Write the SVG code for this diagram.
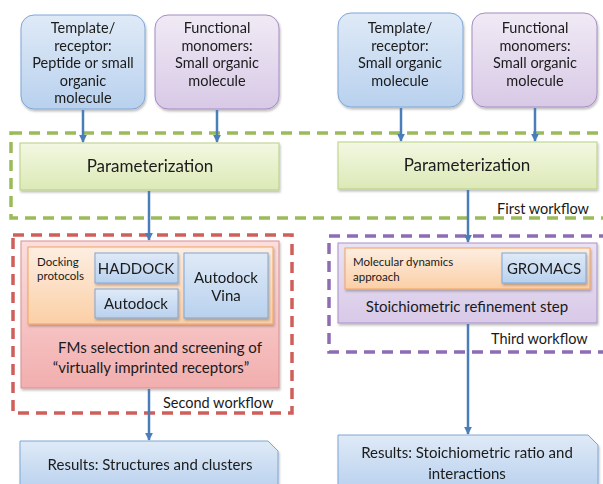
<svg xmlns="http://www.w3.org/2000/svg" width="603" height="484" viewBox="0 0 603 484">
<defs>
<linearGradient id="gBlue" x1="0" y1="0" x2="0" y2="1"><stop offset="0" stop-color="#dfeaf7"/><stop offset="1" stop-color="#b9d1ee"/></linearGradient>
<linearGradient id="gPurple" x1="0" y1="0" x2="0" y2="1"><stop offset="0" stop-color="#f0eaf5"/><stop offset="1" stop-color="#d8c9e6"/></linearGradient>
<linearGradient id="gGreen" x1="0" y1="0" x2="0" y2="1"><stop offset="0" stop-color="#f3f8e2"/><stop offset="1" stop-color="#dce9b6"/></linearGradient>
<linearGradient id="gPink" x1="0" y1="0" x2="0" y2="1"><stop offset="0" stop-color="#fbdede"/><stop offset="1" stop-color="#f2aeae"/></linearGradient>
<linearGradient id="gOrange" x1="0" y1="0" x2="0" y2="1"><stop offset="0" stop-color="#fdeee2"/><stop offset="1" stop-color="#fbcfa6"/></linearGradient>
<linearGradient id="gLav" x1="0" y1="0" x2="0" y2="1"><stop offset="0" stop-color="#ebe3f3"/><stop offset="1" stop-color="#d8c9e8"/></linearGradient>
<filter id="sh" x="-10%" y="-10%" width="120%" height="130%"><feDropShadow dx="1" dy="2" stdDeviation="1.2" flood-color="#000" flood-opacity="0.25"/></filter>
<marker id="arr" viewBox="0 0 10 10" refX="9" refY="5" markerWidth="8" markerHeight="8" markerUnits="userSpaceOnUse" orient="auto"><path d="M0,0 L10,5 L0,10 z" fill="#4a7ebb"/></marker>
</defs>
<style>
text{font-family:Lato,"Open Sans","Liberation Sans",sans-serif;fill:#1a1a1a}
.t15{font-size:15px;text-anchor:middle}
.tb{font-size:14.5px;text-anchor:middle}
.t16{font-size:17px;text-anchor:middle}
.t11{font-size:11.5px}
.t14{font-size:14.5px}
.blue{fill:url(#gBlue);stroke:#7ea6d6;stroke-width:1}
.purple{fill:url(#gPurple);stroke:#a58cc0;stroke-width:1}
.green{fill:url(#gGreen);stroke:#b7cf83;stroke-width:1}
.pink{fill:url(#gPink);stroke:#d9908f;stroke-width:1}
.orange{fill:url(#gOrange);stroke:#f2a35e;stroke-width:1}
.lav{fill:url(#gLav);stroke:#a991c6;stroke-width:1}
.dash{fill:none;stroke-width:3.5;stroke-dasharray:11 7}
.conn{fill:none;stroke:#4a7ebb;stroke-width:2.5}
</style>
<rect width="603" height="484" fill="#ffffff"/>

<!-- workflow frames -->
<g id="first-workflow">
<rect class="dash" x="11" y="133" width="600" height="85" stroke="#9bbb59"/>
<text class="t14" x="497" y="214">First workflow</text>
</g>
<g id="second-workflow">
<rect class="dash" x="13" y="235" width="279" height="178" stroke="#cf5f5b"/>
<text class="t14" x="163" y="408">Second workflow</text>
</g>
<g id="third-workflow">
<rect class="dash" x="329" y="236" width="280" height="116" stroke="#8e6cb4"/>
<text class="t14" x="491" y="344">Third workflow</text>
</g>

<!-- top nodes -->
<g id="template-left" filter="url(#sh)">
<rect class="blue" x="21" y="15" width="124" height="94" rx="13"/>
<text class="tb" x="83" y="33">Template/</text>
<text class="tb" x="83" y="50.5">receptor:</text>
<text class="tb" x="83" y="68">Peptide or small</text>
<text class="tb" x="83" y="85.5">organic</text>
<text class="tb" x="83" y="103">molecule</text>
</g>
<g id="monomers-left" filter="url(#sh)">
<rect class="purple" x="155" y="15" width="124" height="94" rx="13"/>
<text class="tb" x="217" y="33">Functional</text>
<text class="tb" x="217" y="50.5">monomers:</text>
<text class="tb" x="217" y="68">Small organic</text>
<text class="tb" x="217" y="85.5">molecule</text>
</g>
<g id="template-right" filter="url(#sh)">
<rect class="blue" x="338" y="13" width="125" height="94" rx="13"/>
<text class="tb" x="400" y="33">Template/</text>
<text class="tb" x="400" y="50.5">receptor:</text>
<text class="tb" x="400" y="68">Small organic</text>
<text class="tb" x="400" y="85.5">molecule</text>
</g>
<g id="monomers-right" filter="url(#sh)">
<rect class="purple" x="472" y="13" width="125" height="94" rx="13"/>
<text class="tb" x="535" y="33">Functional</text>
<text class="tb" x="535" y="50.5">monomers:</text>
<text class="tb" x="535" y="68">Small organic</text>
<text class="tb" x="535" y="85.5">molecule</text>
</g>

<!-- parameterization -->
<g id="param-left" filter="url(#sh)">
<rect class="green" x="20" y="143" width="259" height="47"/>
<text class="t16" x="150" y="172">Parameterization</text>
</g>
<g id="param-right" filter="url(#sh)">
<rect class="green" x="338" y="142" width="259" height="47"/>
<text class="t16" x="467" y="171">Parameterization</text>
</g>

<!-- second workflow node -->
<g id="fms-screening">
<rect class="pink" x="21" y="241" width="258" height="147" filter="url(#sh)"/>
<rect class="orange" x="28" y="247" width="245" height="77" filter="url(#sh)"/>
<text class="t11" x="37" y="266">Docking</text>
<text class="t11" x="37" y="280">protocols</text>
<text class="t15" x="160" y="353">FMs selection and screening of</text>
<text class="t15" x="151" y="373">“virtually imprinted receptors”</text>
</g>
<g id="haddock" filter="url(#sh)">
<rect class="blue" x="95" y="253" width="83" height="30"/>
<text class="t15" x="136" y="274">HADDOCK</text>
</g>
<g id="autodock" filter="url(#sh)">
<rect class="blue" x="95" y="289" width="83" height="29"/>
<text class="t15" x="136" y="309">Autodock</text>
</g>
<g id="autodock-vina" filter="url(#sh)">
<rect class="blue" x="184" y="253" width="84" height="65"/>
<text class="t15" x="226" y="283">Autodock</text>
<text class="t15" x="226" y="301">Vina</text>
</g>

<!-- third workflow node -->
<g id="stoichiometric-refinement">
<rect class="lav" x="338" y="243" width="259" height="80" filter="url(#sh)"/>
<rect class="orange" x="345" y="248" width="245" height="41" filter="url(#sh)"/>
<text class="t11" x="353" y="266">Molecular dynamics</text>
<text class="t11" x="353" y="281">approach</text>
<text class="t15" x="467" y="312">Stoichiometric refinement step</text>
</g>
<g id="gromacs" filter="url(#sh)">
<rect class="blue" x="502" y="253" width="84" height="30"/>
<text class="t15" x="544" y="274">GROMACS</text>
</g>

<!-- results -->
<g id="results-left" filter="url(#sh)">
<path class="blue" d="M20,441 H268 L278,451 V490 H20 Z"/>
<text class="t15" x="150" y="470">Results: Structures and clusters</text>
</g>
<g id="results-right" filter="url(#sh)">
<path class="blue" d="M338,435 H588 L598,445 V490 H338 Z"/>
<text class="t15" x="467" y="458">Results: Stoichiometric ratio and</text>
<text class="t15" x="467" y="479">interactions</text>
</g>

<!-- connectors -->
<g id="connectors">
<line class="conn" x1="83" y1="110" x2="83" y2="142" marker-end="url(#arr)"/>
<line class="conn" x1="217" y1="110" x2="217" y2="142" marker-end="url(#arr)"/>
<line class="conn" x1="401" y1="108" x2="401" y2="141" marker-end="url(#arr)"/>
<line class="conn" x1="535" y1="108" x2="535" y2="141" marker-end="url(#arr)"/>
<line class="conn" x1="149" y1="191" x2="149" y2="240" marker-end="url(#arr)"/>
<line class="conn" x1="149" y1="389" x2="149" y2="440" marker-end="url(#arr)"/>
<line class="conn" x1="468" y1="190" x2="468" y2="242" marker-end="url(#arr)"/>
<line class="conn" x1="468" y1="324" x2="468" y2="434" marker-end="url(#arr)"/>
</g>
</svg>
